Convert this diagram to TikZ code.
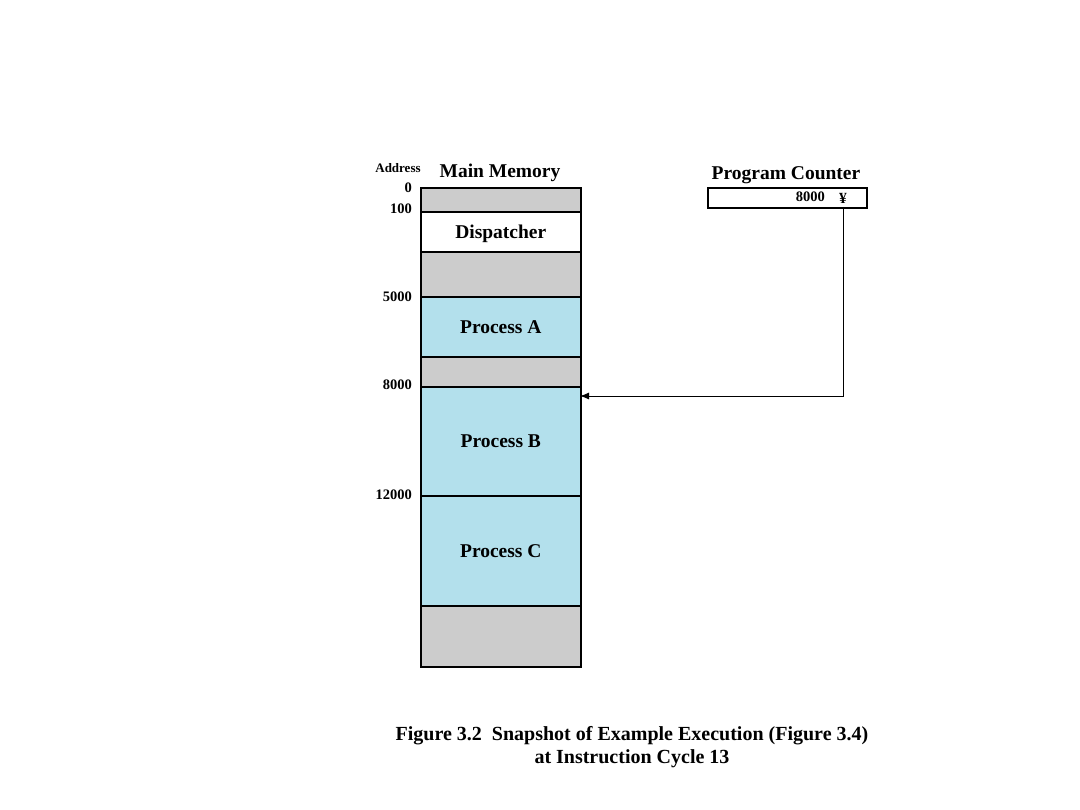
\documentclass[tikz,border=0pt]{standalone}
\usepackage{fontspec}
\setmainfont{Liberation Serif}
\usetikzlibrary{arrows.meta}
\definecolor{memgray}{RGB}{204,204,204}
\definecolor{memblue}{RGB}{179,224,236}
\begin{document}
\begin{tikzpicture}[x=1pt,y=-1pt,
  blk/.style={draw=black,line width=1.6pt,inner sep=0pt,text depth=0pt,minimum width=160pt,anchor=north west,font=\fontsize{19.5}{22}\selectfont\bfseries},
  grayblk/.style={blk,fill=memgray},
  blueblk/.style={blk,fill=memblue},
  whiteblk/.style={blk,fill=white},
  addr/.style={anchor=east,inner sep=0pt,font=\fontsize{14.5}{16}\selectfont\bfseries},
  title/.style={inner sep=0pt,font=\fontsize{19.5}{22}\selectfont\bfseries},
  conn/.style={line width=0.9pt,-{Latex[length=9pt,width=7pt]}}
]
\useasboundingbox (0,0) rectangle (1080,810);
% memory blocks
\node[grayblk,minimum height=24pt] (m0) at (420,187) {};
\node[whiteblk,minimum height=40pt] (disp) at (420,211) {Dispatcher};
\node[grayblk,minimum height=45pt] (m1) at (420,251) {};
\node[blueblk,minimum height=60pt] (pa) at (420,296) {Process A};
\node[grayblk,minimum height=30pt] (m2) at (420,356) {};
\node[blueblk,minimum height=109pt] (pb) at (420,386) {Process B};
\node[blueblk,minimum height=110pt] (pc) at (420,495) {Process C};
\node[grayblk,minimum height=61pt] (m3) at (420,605) {};
% labels
\node[inner sep=0pt,font=\fontsize{13}{14}\selectfont\bfseries] (addrt) at (398,168) {Address};
\node[title] (mmt) at (500,173) {Main Memory};
\node[addr] (a0) at (412,188) {0};
\node[addr] (a100) at (412,209) {100};
\node[addr] (a5000) at (412,297) {5000};
\node[addr] (a8000) at (412,385) {8000};
\node[addr] (a12000) at (412,495) {12000};
% program counter
\node[title] (pct) at (786,175) {Program Counter};
\node[draw=black,line width=1.6pt,fill=white,minimum width=159pt,minimum height=20pt,inner sep=0pt,anchor=north west] (pcbox) at (707,187) {};
\node[inner sep=0pt,font=\fontsize{14.5}{16}\selectfont\bfseries,anchor=east] (pcval) at (825,197) {8000};
\node[inner sep=0pt,font=\fontsize{15.5}{16}\selectfont\bfseries] (yen) at (843,198) {¥};
\coordinate (pcout) at (843,207);
\coordinate (target) at (580,396);
\draw[conn] (pcout) |- (target);
% caption
\node[inner sep=0pt,align=center,font=\fontsize{20}{23}\selectfont\bfseries] (cap) at (632,747) {Figure 3.2\ \ Snapshot of Example Execution (Figure 3.4)\\at Instruction Cycle 13};
\end{tikzpicture}
\end{document}
